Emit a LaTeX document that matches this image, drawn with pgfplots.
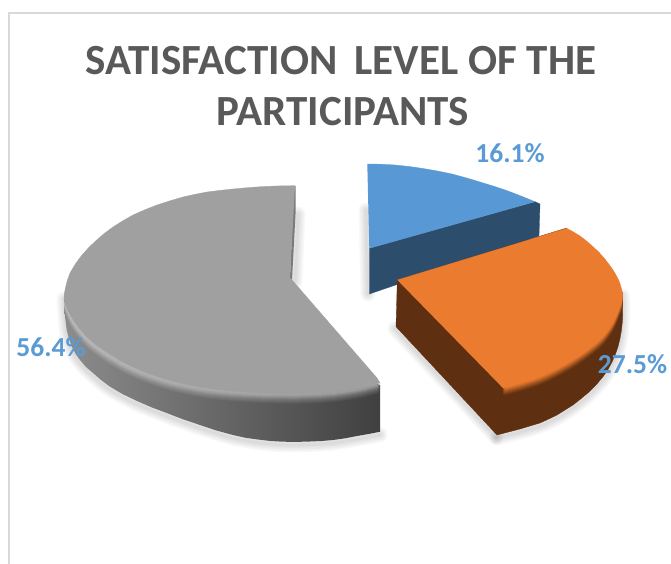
\documentclass[border=0pt]{standalone}
\usepackage{pgfplots}
\usepackage{pgfplotstable}
\usepackage{fontspec}
\setmainfont{Carlito}
\pgfplotsset{compat=1.18}
\definecolor{titlec}{HTML}{595959}
\definecolor{labelc}{HTML}{5B9BD5}
\definecolor{framec}{HTML}{D9D9D9}
\definecolor{bluetop}{HTML}{5898D4}
\definecolor{blueside}{HTML}{2D4D6D}
\definecolor{orangetop}{HTML}{EB7C2F}
\definecolor{orangeside}{HTML}{5E2F10}
\definecolor{graytop}{HTML}{A0A0A0}
% --- blue slice (16.1%)
\pgfplotstableread{
x y
367.3 164
381 164.2
395 165
409 166.5
423 168.5
437.5 171
452 174
466 177.8
480 182
494 186.3
508 191
521.5 196.2
535 201.7
369.3 248.3
}\bluetopface
\pgfplotstableread{
x y
369.3 248.3
535 201.7
540 204
539 236
369.3 294
}\blueface
% --- orange slice (27.5%)
\pgfplotstableread{
x y
397.3 280
566.7 228.3
573.5 232
580 236
586.5 241
593 246.7
598.7 252
604 258
608.7 264
613 270
616.2 275.3
619 281
621 287
622.5 293
622.5 297
622 300
621.2 303.5
620 307
617 315
613 323
608.3 330.3
603 337
596.3 343.2
589 349
581.3 354.8
573 360
565 364.7
557 369
548.7 373.2
540 377
530.2 380.5
520 383.5
511.5 385.9
503 388
500 385
}\orangetopface
\pgfplotstableread{
x y
622.5 293
622 300
620 307
613 323
603 337
589 349
573 360
557 369
540 377
520 383.5
503 388
}\orangearcB
\pgfplotstableread{
x y
397.3 280
396 326.7
497 435
508.5 432
520 429
530 426
540 423
548.7 419
557 415
565 410
573 405
581 398.7
589 392
596.3 384.7
603 376.7
608 369.5
612 362
615.3 354.5
618 346.7
620 338.5
621.5 330
622.5 320
622.7 310
622.7 293
566 228
}\orangeface
\pgfplotstableread{
x y
497 435
520 429
540 423
557 415
573 405
589 392
603 376.7
612 362
618 346.7
621.5 330
622.7 310
622.7 293
}\orangesil
\pgfplotstableread{
x y
396 326.7
497 435
}\orangeedge
% --- gray slice (56.4%)
\pgfplotstableread{
x y
295 185.7
279.5 185.9
264 186.5
248.5 187.6
233 189
220 190.4
207 192
195 194.3
183 197
170 200.8
157 205
145 209.7
133 215
123 220.7
113 227
104.5 233.3
96.7 240
89 247.3
82 255
75.5 263.8
70 273
67 281.5
65 290
64.2 295
64 300
67.3 309.3
72 318
79 328
87 337
97 345.5
108 353
120 360.5
133 367
148.5 373.5
165 379
182 383.5
200 387
216.5 389.3
233 391
250 392.3
267 393
283.5 393.5
300 393.5
316.5 393
333 392
347 390.3
360 388
370 385.7
380 383
377 378
292 280
290 278
}\graytopface
\pgfplotstableread{
x y
64 300
72 318
87 337
108 353
133 367
165 379
200 387
233 391
267 393
300 393.5
333 392
360 388
380 383
}\grayarcB
\pgfplotstableread{
x y
64 296
64.6 313
66.7 330
69 339
72 347
75.7 354
80 360
86 367
93 373
101 380
110 386.7
123 394.3
137 401
151.5 407.3
166.7 413
183 419.3
200 425
216.5 430.5
233 435
245.5 437.8
258 439.5
270.5 441
283 441.7
296.5 441.9
310 441.5
321.5 441
333 440
345 438.3
357 436
368.5 434
380 431.7
380 385
}\grayside
\pgfplotstableread{
x y
64 296
66.7 330
72 347
80 360
93 373
110 386.7
137 401
166.7 413
200 425
233 435
258 439.5
283 441.7
310 441.5
333 440
357 436
380 431.7
}\graysil
\pgfplotstableread{
x y
294 186
295.5 186
295.5 214
292 280
290 278
}\graysliver
\pgfplotstableread{
x y
296 214
293 282
}\graysliveredge
\pgfplotstableread{
x y
367 210
369 294
}\blueedge
\pgfplotstableread{
x y
9 564
9 13
671 13
}\frameline
\pgfplotstableread{
x y
0 0
671 0
671 564
0 564
}\canvas
\begin{document}
\begin{tikzpicture}
\begin{axis}[
  scale only axis, width=671pt, height=564pt,
  xmin=0, xmax=671, ymin=0, ymax=564, y dir=reverse,
  hide axis, clip=true,
  shadowlayer/.style={smooth, draw=black, fill=none, opacity=0.028, line cap=round, line join=round},
]
\addplot[fill=white,draw=none] table {\canvas};
\addplot[draw=framec,line width=2pt,fill=none] table {\frameline};
% soft shadows
\pgfplotsinvokeforeach{3,6,9,12,15}{
  \addplot[shadowlayer,line width=#1pt,yshift=-3pt] table {\graysil};
  \addplot[shadowlayer,line width=#1pt,yshift=-3pt] table {\orangesil};
  \addplot[shadowlayer,line width=#1pt,yshift=-2pt,xshift=-1pt] table {\orangeedge};
  \addplot[shadowlayer,line width=#1pt,xshift=2pt] table {\graysliveredge};
  \addplot[shadowlayer,line width=#1pt,xshift=-1pt] table {\blueedge};
}
% blue
\addplot[fill=blueside,draw=blueside,line width=.3pt] table {\blueface};
\addplot[fill=bluetop,draw=bluetop,line width=.3pt] table {\bluetopface};
% orange
\addplot[fill=orangeside,draw=orangeside,line width=.3pt] table {\orangeface};
\addplot[fill=orangetop!8!orangeside,draw=none,smooth,yshift=-8pt] table {\orangearcB};
\addplot[fill=orangetop!18!orangeside,draw=none,smooth,yshift=-7pt] table {\orangearcB};
\addplot[fill=orangetop!30!orangeside,draw=none,smooth,yshift=-6pt] table {\orangearcB};
\addplot[fill=orangetop!42!orangeside,draw=none,smooth,yshift=-5pt] table {\orangearcB};
\addplot[fill=orangetop!55!orangeside,draw=none,smooth,yshift=-4pt] table {\orangearcB};
\addplot[fill=orangetop!68!orangeside,draw=none,smooth,yshift=-3pt] table {\orangearcB};
\addplot[fill=orangetop!80!orangeside,draw=none,smooth,yshift=-2pt] table {\orangearcB};
\addplot[fill=orangetop!90!orangeside,draw=none,smooth,yshift=-1pt] table {\orangearcB};
\addplot[fill=orangetop,draw=orangetop,line width=.3pt] table {\orangetopface};
% gray
\addplot[left color=black!45,right color=black!75,draw=none] table {\grayside};
\addplot[fill=black!52,draw=none] table {\graysliver};
\addplot[left color=black!42,right color=black!72,draw=none,smooth,yshift=-10pt] table {\grayarcB};
\addplot[left color=black!40,right color=black!69,draw=none,smooth,yshift=-9pt] table {\grayarcB};
\addplot[left color=black!38,right color=black!66,draw=none,smooth,yshift=-8pt] table {\grayarcB};
\addplot[left color=black!36,right color=black!63,draw=none,smooth,yshift=-7pt] table {\grayarcB};
\addplot[left color=black!33,right color=black!60,draw=none,smooth,yshift=-6pt] table {\grayarcB};
\addplot[left color=black!30,right color=black!55,draw=none,smooth,yshift=-5pt] table {\grayarcB};
\addplot[left color=black!28,right color=black!50,draw=none,smooth,yshift=-4pt] table {\grayarcB};
\addplot[left color=black!28,right color=black!45,draw=none,smooth,yshift=-3pt] table {\grayarcB};
\addplot[left color=black!28,right color=black!40,draw=none,smooth,yshift=-2pt] table {\grayarcB};
\addplot[fill=graytop,draw=graytop,line width=.3pt] table {\graytopface};
% text
\node[font=\bfseries\fontsize{43}{43}\selectfont,text=titlec,anchor=center] at (axis cs:341,61) {SATISFACTION\hspace{.4em}LEVEL OF THE};
\node[font=\bfseries\fontsize{43}{43}\selectfont,text=titlec,anchor=center] at (axis cs:343,112) {PARTICIPANTS};
\node[font=\bfseries\fontsize{27.5}{27.5}\selectfont,text=labelc,anchor=center] at (axis cs:510,153) {16.1\%};
\node[font=\bfseries\fontsize{27.5}{27.5}\selectfont,text=labelc,anchor=center] at (axis cs:632.5,364) {27.5\%};
\node[font=\bfseries\fontsize{27.5}{27.5}\selectfont,text=labelc,anchor=center] at (axis cs:51,347) {56.4\%};
\end{axis}
\end{tikzpicture}
\end{document}
